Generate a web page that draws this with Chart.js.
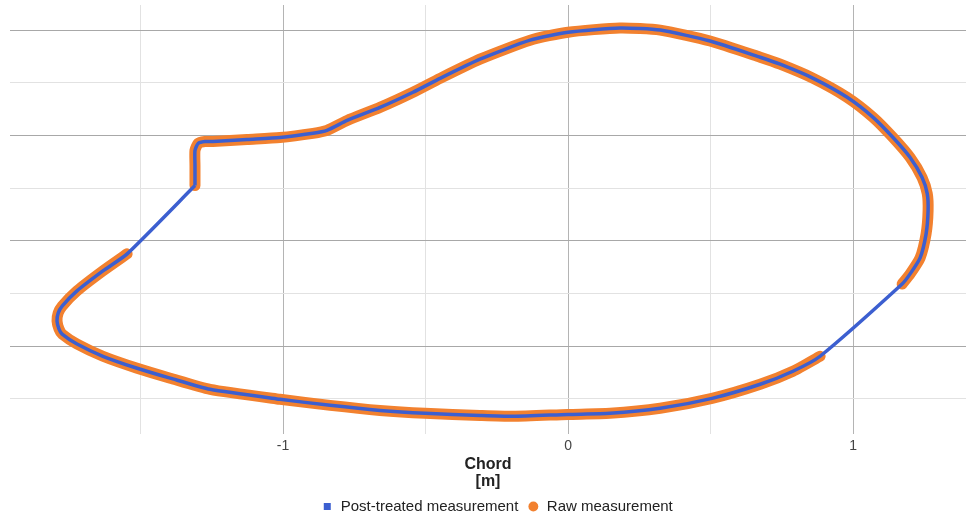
<!DOCTYPE html>
<html>

<head>
    <title>Chord profile</title>
    <meta charset="UTF-8">
    <script src="https://cdn.jsdelivr.net/npm/chart.js@4.4.1/dist/chart.umd.min.js"></script>
    <style>
        body { margin: 0; background: #fff; }
    </style>
</head>

<body>
    <canvas id="profileChart" width="968" height="516"></canvas>
    <script>
        // post-treated contour (kink -> upper side -> trailing edge -> lower side -> leading edge)
        const postX = [-1.309, -1.309, -1.309, -1.298, -1.274, -1.246, -1.126, -1.011, -0.895, -0.846, -0.775, -0.660,
            -0.544, -0.449, -0.309, -0.133, 0.000, 0.182, 0.323, 0.498, 0.674, 0.744, 0.860, 0.979, 1.070, 1.140,
            1.200, 1.242, 1.260, 1.263, 1.256, 1.235, 1.200, 1.172, 0.884, 0.789, 0.674, 0.505,
            0.323, 0.147, 0.000, -0.193, -0.309, -0.502, -0.660, -0.835, -1.011, -1.256, -1.396, -1.512, -1.632,
            -1.723, -1.775, -1.786, -1.793, -1.789, -1.775, -1.723, -1.632, -1.547, -1.309];
        const postY = [0.262, 0.357, 0.429, 0.462, 0.471, 0.471, 0.481, 0.490, 0.510, 0.524, 0.571, 0.633,
            0.705, 0.771, 0.862, 0.952, 0.990, 1.010, 1.000, 0.948, 0.871, 0.838, 0.771, 0.681, 0.586, 0.490,
            0.395, 0.300, 0.224, 0.143, 0.033, -0.081, -0.157, -0.205, -0.548, -0.619, -0.681, -0.748,
            -0.795, -0.819, -0.824, -0.833, -0.829, -0.819, -0.805, -0.781, -0.752, -0.705, -0.652, -0.605, -0.548,
            -0.490, -0.443, -0.419, -0.381, -0.343, -0.310, -0.238, -0.143, -0.062, 0.262];

        // raw measurement, the two missing stretches left as gaps (null)
        const rawX = [-1.309, -1.309, -1.309, -1.298, -1.274, -1.246, -1.126, -1.011, -0.895, -0.846, -0.775, -0.660,
            -0.544, -0.449, -0.309, -0.133, 0.000, 0.182, 0.323, 0.498, 0.674, 0.744, 0.860, 0.979, 1.070, 1.140,
            1.200, 1.242, 1.260, 1.263, 1.256, 1.235, 1.200, 1.172, null, 0.884, 0.789, 0.674, 0.505,
            0.323, 0.147, 0.000, -0.193, -0.309, -0.502, -0.660, -0.835, -1.011, -1.256, -1.396, -1.512, -1.632,
            -1.723, -1.775, -1.786, -1.793, -1.789, -1.775, -1.723, -1.632, -1.547];
        const rawY = [0.262, 0.357, 0.429, 0.462, 0.471, 0.471, 0.481, 0.490, 0.510, 0.524, 0.571, 0.633,
            0.705, 0.771, 0.862, 0.952, 0.990, 1.010, 1.000, 0.948, 0.871, 0.838, 0.771, 0.681, 0.586, 0.490,
            0.395, 0.300, 0.224, 0.143, 0.033, -0.081, -0.157, -0.205, null, -0.548, -0.619, -0.681, -0.748,
            -0.795, -0.819, -0.824, -0.833, -0.829, -0.819, -0.805, -0.781, -0.752, -0.705, -0.652, -0.605, -0.548,
            -0.490, -0.443, -0.419, -0.381, -0.343, -0.310, -0.238, -0.143, -0.062];

        const xTicks = [-1.5, -1, -0.5, 0, 0.5, 1];
        const yTicks = [-0.75, -0.5, -0.25, 0, 0.25, 0.5, 0.75, 1];

        const toPoints = (xs, ys) => xs.map((x, i) => ({ x: x, y: ys[i] }));
        const isHalf = (v) => Math.abs(v * 2 - Math.round(v * 2)) < 1e-6;

        // nudge the legend down / right after layout so it sits like the original
        const legendNudge = {
            id: 'legendNudge',
            afterLayout(chart) {
                const lg = chart.legend;
                lg.top += 8; lg.bottom += 8;
                lg.left += 9; lg.right += 9;
            }
        };

        Chart.defaults.font.family = "'Liberation Sans', Arial, sans-serif";
        Chart.defaults.color = '#444';

        const ctx = document.getElementById('profileChart');
        new Chart(ctx, {
            type: 'scatter',
            data: {
                datasets: [
                    {
                        label: 'Post-treated measurement',
                        data: toPoints(postX, postY),
                        showLine: true,
                        borderColor: '#3c5fd0',
                        backgroundColor: '#3c5fd0',
                        borderWidth: 3.5,
                        pointRadius: 0,
                        pointStyle: 'rect',
                        tension: 0.2
                    },
                    {
                        label: 'Raw measurement',
                        data: toPoints(rawX, rawY),
                        showLine: true,
                        spanGaps: false,
                        borderColor: '#f2812f',
                        backgroundColor: '#f2812f',
                        borderWidth: 11,
                        borderCapStyle: 'round',
                        borderJoinStyle: 'round',
                        pointRadius: 0,
                        pointStyle: 'circle',
                        tension: 0.2
                    }
                ]
            },
            plugins: [legendNudge],
            options: {
                responsive: false,
                animation: false,
                layout: { padding: { left: 10, right: 2, top: 5, bottom: 0 } },
                scales: {
                    x: {
                        min: -1.958,
                        max: 1.396,
                        afterBuildTicks: (axis) => { axis.ticks = xTicks.map(v => ({ value: v })); },
                        ticks: {
                            padding: 5,
                            font: { size: 14, lineHeight: 1.0 },
                            color: '#444',
                            callback: (v) => Number.isInteger(v) ? String(v) : ''
                        },
                        grid: {
                            drawTicks: false,
                            color: (c) => Number.isInteger(c.tick.value) ? '#b4b4b4' : '#e2e2e2'
                        },
                        border: { display: false },
                        title: {
                            display: true,
                            text: ['Chord', '[m]'],
                            color: '#222',
                            font: { size: 16, weight: 'bold', lineHeight: 1.05 },
                            padding: { top: -1.4, bottom: -8 }
                        }
                    },
                    y: {
                        min: -0.916,
                        max: 1.119,
                        afterBuildTicks: (axis) => { axis.ticks = yTicks.map(v => ({ value: v })); },
                        ticks: { display: false },
                        grid: {
                            drawTicks: false,
                            color: (c) => isHalf(c.tick.value) ? '#a8a8a8' : '#e2e2e2'
                        },
                        border: { display: false }
                    }
                },
                plugins: {
                    tooltip: { enabled: false },
                    legend: {
                        position: 'bottom',
                        labels: {
                            usePointStyle: true,
                            boxWidth: 12,
                            boxHeight: 7,
                            padding: 9,
                            color: '#222',
                            font: { size: 15 },
                            generateLabels: (chart) => Chart.defaults.plugins.legend.labels.generateLabels(chart)
                                .map(item => Object.assign(item, { lineWidth: 0 }))
                        }
                    }
                }
            }
        });
    </script>

</body>

</html>
